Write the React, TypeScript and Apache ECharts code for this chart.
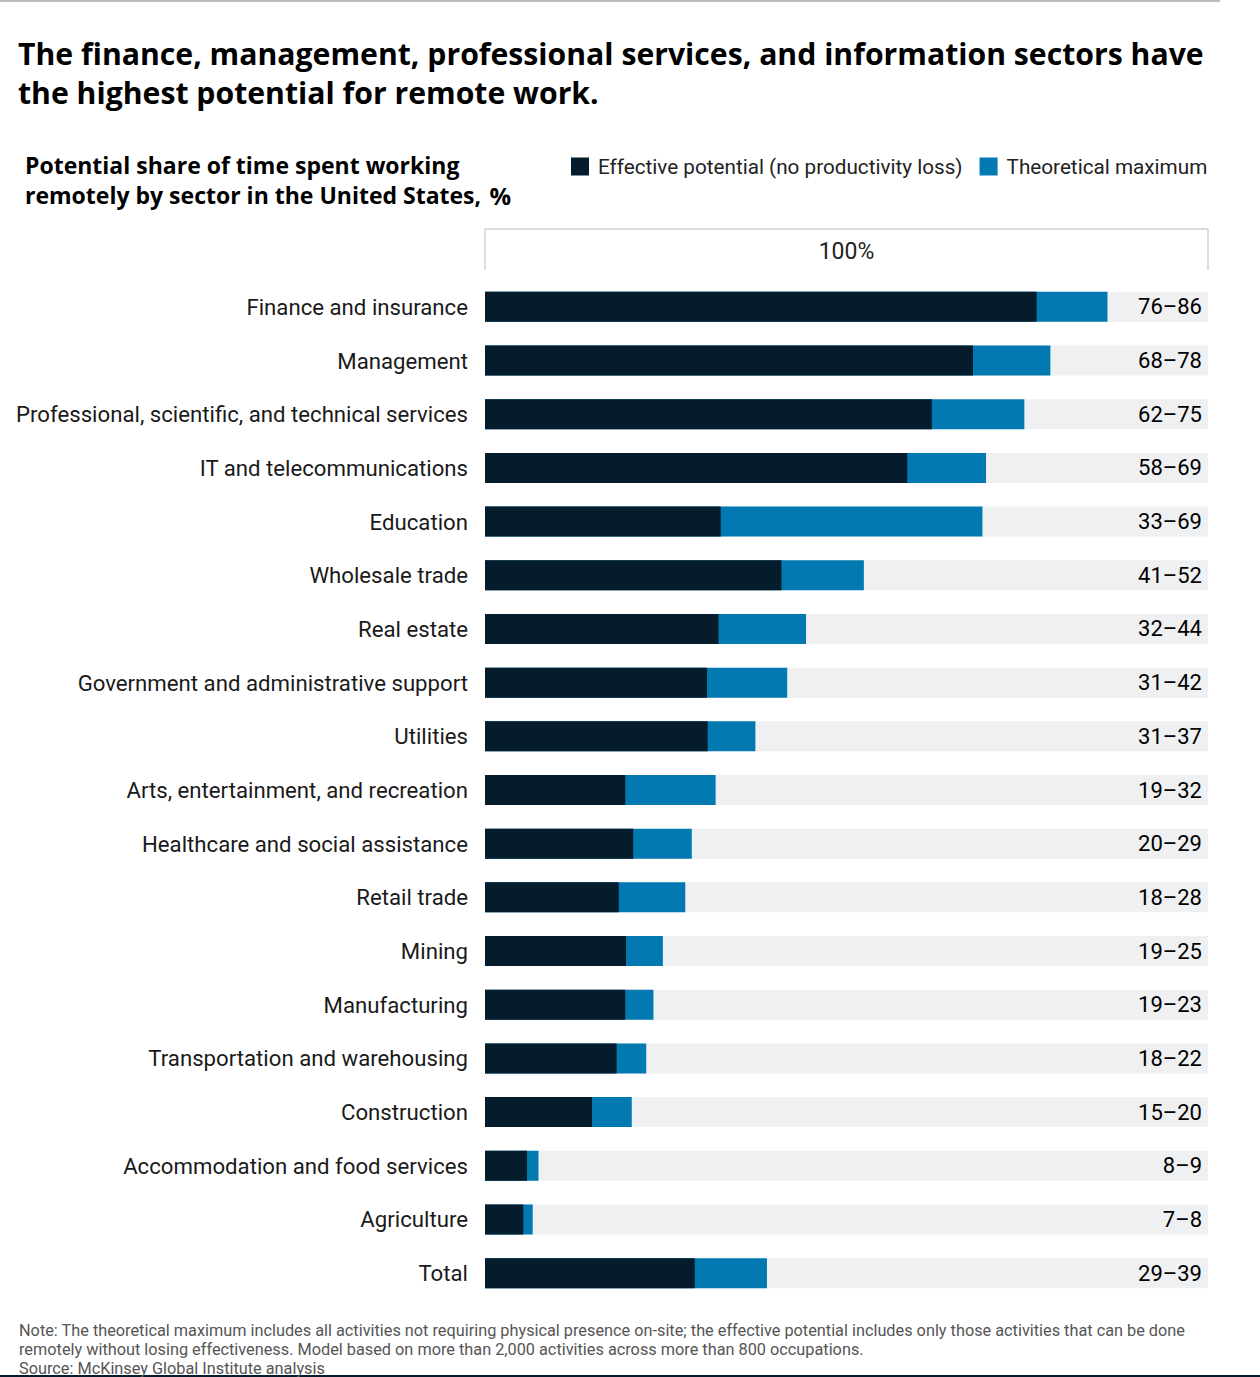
import { useRef, useEffect } from 'react'
import * as echarts from 'echarts'

const categories = [
  'Finance and insurance',
  'Management',
  'Professional, scientific, and technical services',
  'IT and telecommunications',
  'Education',
  'Wholesale trade',
  'Real estate',
  'Government and administrative support',
  'Utilities',
  'Arts, entertainment, and recreation',
  'Healthcare and social assistance',
  'Retail trade',
  'Mining',
  'Manufacturing',
  'Transportation and warehousing',
  'Construction',
  'Accommodation and food services',
  'Agriculture',
  'Total',
]

// bar lengths, %
const effective = [76.3, 67.5, 61.8, 58.4, 32.6, 41.0, 32.3, 30.7, 30.8, 19.4, 20.5, 18.5, 19.5, 19.4, 18.2, 14.8, 5.8, 5.3, 29.0]
const theoretical = [86.1, 78.2, 74.6, 69.3, 68.8, 52.4, 44.4, 41.8, 37.4, 31.9, 28.6, 27.7, 24.6, 23.3, 22.3, 20.3, 7.4, 6.6, 39.0]

// printed range labels
const rangeLabels = [
  '76–86', '68–78', '62–75', '58–69', '33–69', '41–52', '32–44', '31–42', '31–37', '19–32',
  '20–29', '18–28', '19–25', '19–23', '18–22', '15–20', '8–9', '7–8', '29–39',
]

const FONT = 'Roboto, "Noto Sans", sans-serif'
const HEAD_FONT = '"Open Sans", Roboto, sans-serif'
const DARK = '#051c2c'
const BLUE = '#027ab1'
const TRACK = '#eff0f2'

const GRID_LEFT = 485
const GRID_RIGHT = 1208

export default function App() {
  const chartRef = useRef<HTMLDivElement>(null)

  useEffect(() => {
    if (!chartRef.current) return
    const chart = echarts.init(chartRef.current, undefined, { renderer: 'svg' })

    const option: echarts.EChartsOption = {
      animation: false,
      backgroundColor: '#fff',
      textStyle: { fontFamily: FONT },
      title: [
        {
          text: 'The finance, management, professional services, and information sectors have\nthe highest potential for remote work.',
          left: 13,
          top: 29,
          textStyle: { fontFamily: HEAD_FONT, fontSize: 30.2, fontWeight: 'bold', color: '#000', lineHeight: 39 },
        },
        {
          text: '{b|Potential share of time spent working}\n{b|remotely by sector in the United States,} {r|%}',
          left: 20,
          top: 145,
          textStyle: {
            rich: {
              b: { fontFamily: HEAD_FONT, fontSize: 23, fontWeight: 'bold', color: '#000', lineHeight: 30 },
              r: { fontFamily: HEAD_FONT, fontSize: 24, color: '#000', lineHeight: 30, padding: [0, 0, 0, 4] },
            },
          },
        },
        {
          text:
            'Note: The theoretical maximum includes all activities not requiring physical presence on-site; the effective potential includes only those activities that can be done\nremotely without losing effectiveness. Model based on more than 2,000 activities across more than 800 occupations.\nSource: McKinsey Global Institute analysis',
          left: 14,
          top: 1316,
          textStyle: { fontFamily: FONT, fontSize: 16.3, fontWeight: 'normal', color: '#555', lineHeight: 19 },
        },
      ],
      legend: {
        data: ['Effective potential (no productivity loss)', 'Theoretical maximum'],
        left: 571,
        top: 156,
        padding: 0,
        icon: 'rect',
        itemWidth: 18,
        itemHeight: 18,
        itemGap: 17,
        selectedMode: false,
        textStyle: { fontFamily: FONT, fontSize: 20.7, color: '#222', padding: [0, 0, 0, 4] },
      },
      grid: { left: GRID_LEFT, right: 1260 - GRID_RIGHT, top: 280, height: 1020, containLabel: false },
      xAxis: { type: 'value', min: 0, max: 100, show: false },
      yAxis: {
        type: 'category',
        data: categories,
        inverse: true,
        axisLine: { show: false },
        axisTick: { show: false },
        splitLine: { show: false },
        axisLabel: { fontFamily: FONT, fontSize: 22.2, color: '#1a1a1a', margin: 17 },
      },
      graphic: [
        { type: 'line', shape: { x1: 0, y1: 1, x2: 1220, y2: 1 }, style: { stroke: '#bdbdbd', lineWidth: 2 } },
        { type: 'line', shape: { x1: 0, y1: 1376, x2: 1260, y2: 1376 }, style: { stroke: DARK, lineWidth: 2 } },
        { type: 'line', shape: { x1: GRID_LEFT, y1: 229, x2: GRID_RIGHT, y2: 229 }, style: { stroke: '#d0d0d0', lineWidth: 1.5 } },
        { type: 'line', shape: { x1: GRID_LEFT, y1: 229, x2: GRID_LEFT, y2: 270 }, style: { stroke: '#d0d0d0', lineWidth: 1.5 } },
        { type: 'line', shape: { x1: GRID_RIGHT, y1: 229, x2: GRID_RIGHT, y2: 270 }, style: { stroke: '#d0d0d0', lineWidth: 1.5 } },
        {
          type: 'text',
          x: (GRID_LEFT + GRID_RIGHT) / 2,
          y: 251,
          style: { text: '100%', fontFamily: FONT, fontSize: 23, fill: '#222', align: 'center', verticalAlign: 'middle' },
        },
      ],
      series: [
        {
          name: 'track',
          type: 'bar',
          data: categories.map(() => 100),
          barWidth: 30,
          barGap: '-100%',
          silent: true,
          itemStyle: { color: TRACK },
          label: {
            show: true,
            position: 'insideRight',
            distance: 6,
            formatter: (p: any) => rangeLabels[p.dataIndex],
            fontFamily: FONT,
            fontSize: 22,
            color: '#000',
          },
        },
        {
          name: 'Theoretical maximum',
          type: 'bar',
          data: theoretical,
          barWidth: 30,
          barGap: '-100%',
          itemStyle: { color: BLUE },
        },
        {
          name: 'Effective potential (no productivity loss)',
          type: 'bar',
          data: effective,
          barWidth: 30,
          barGap: '-100%',
          itemStyle: { color: DARK },
        },
      ],
    }

    chart.setOption(option)

    return () => {
      chart.dispose()
    }
  }, [])

  return <div ref={chartRef} style={{ position: 'absolute', left: 0, top: 0, width: 1260, height: 1377 }} />
}
